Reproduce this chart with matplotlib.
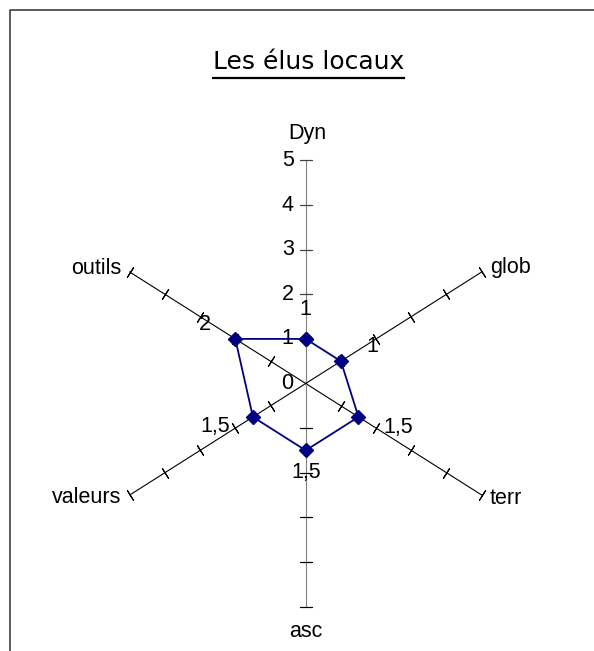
import numpy as np
import matplotlib.pyplot as plt
from matplotlib.lines import Line2D

categories = ['Dyn', 'glob', 'terr', 'asc', 'valeurs', 'outils']
values = [1, 1, 1.5, 1.5, 1.5, 2]
ticks = [0, 1, 2, 3, 4, 5]
title = 'Les élus locaux'

W, H = 594, 651
rmax = ticks[-1]
cx, cy = 305.7, 383.5      # centre in pixels (from top-left)
sx, sy = 40.64, 44.6       # pixels per unit, horizontal / vertical

plt.rcParams['font.family'] = ['Liberation Sans', 'DejaVu Sans']
fs = 15.5

fig = plt.figure(figsize=(W/100, H/100), dpi=100)
ax = fig.add_axes([0, 0, 1, 1])
ax.set_xlim(-cx/sx, (W-cx)/sx)
ax.set_ylim(-(H-cy)/sy, cy/sy)
ax.axis('off')

theta = np.deg2rad(np.arange(len(categories))*360/len(categories))

def xy(r, t):
    r = np.asarray(r, dtype=float)
    return r*np.sin(t), r*np.cos(t)

# spokes + tick marks
for c, t in zip(categories, theta):
    valax = c in ('Dyn', 'asc')
    x, y = xy([0, rmax], t)
    ax.plot(x, y, color='#808080' if valax else 'black', lw=0.8, zorder=1)
    ang = np.degrees(np.arctan2(sy*np.cos(t), sx*np.sin(t)))
    tx, ty = xy(ticks[1:], t)
    ax.plot(tx, ty, ls='none', marker=(2, 2, ang), ms=8.6,
            mec='#404040' if c == 'Dyn' else 'black', mew=0.8, zorder=1)

# value axis labels
for v in ticks:
    x, y = xy(v, 0)
    ax.annotate(str(v), (x, y), xytext=(-12, 0), textcoords='offset pixels',
                ha='right', va='center', fontsize=fs)

# category labels
cat_off = [(2, 27, 'center'), (8, 4, 'left'), (8, -3, 'left'),
           (0, -25, 'center'), (-8, -2, 'right'), (-8, 3, 'right')]
for c, t, (dx, dy, ha) in zip(categories, theta, cat_off):
    x, y = xy(rmax, t)
    ax.annotate(c, (x, y), xytext=(dx, dy), textcoords='offset pixels',
                ha=ha, va='center', fontsize=fs)

# data series
px, py = xy(values, theta)
ax.plot(np.append(px, px[0]), np.append(py, py[0]), color='#000080', lw=1.3,
        marker='D', ms=7, mfc='#000080', mec='#000080', zorder=3)

lab_off = [(0, 29), (31, 15), (40, -11), (0, -22), (-38, -10), (-30, 14)]
for v, x, y, (dx, dy) in zip(values, px, py, lab_off):
    ax.annotate(f'{v:g}'.replace('.', ','), (x, y), xytext=(dx, dy),
                textcoords='offset pixels', ha='center', va='center', fontsize=fs)

# title, underlined
tt = fig.text(308.5/W, 1-62/H, title, ha='center', va='center', fontsize=18,
              family='DejaVu Sans')
fig.canvas.draw()
bb = tt.get_window_extent()
fig.add_artist(Line2D([bb.x0/W, bb.x1/W], [1-77.5/H]*2, transform=fig.transFigure,
                      color='black', lw=1.6))

# chart area border (cropped)
fig.add_artist(Line2D([10/W, 10/W, 1], [0, 1-10/H, 1-10/H], transform=fig.transFigure,
                      color='#404040', lw=1.2))

fig.savefig('out.png', dpi=100)
